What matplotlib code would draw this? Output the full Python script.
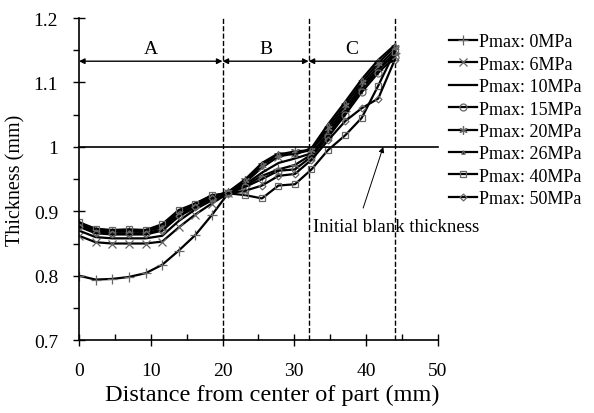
import numpy as np
import matplotlib as mpl
import matplotlib.pyplot as plt
from matplotlib.ticker import MultipleLocator

mpl.rc("font", family="Liberation Serif", size=14)

# distance from center of part (mm)
dist = [0, 2.3, 4.6, 6.9, 9.3, 11.6, 13.9, 16.2, 18.5, 20.8,
        23.2, 25.5, 27.8, 30.1, 32.4, 34.7, 37.1, 39.4, 41.7, 44.0]

labels = ["Pmax: 0MPa", "Pmax: 6MPa", "Pmax: 10MPa", "Pmax: 15MPa",
          "Pmax: 20MPa", "Pmax: 26MPa", "Pmax: 40MPa", "Pmax: 50MPa"]

t_0 = [0.800, 0.794, 0.795, 0.798, 0.804, 0.817, 0.839, 0.863, 0.894, 0.928,
       0.940, 0.955, 0.965, 0.972, 0.988, 1.020, 1.055, 1.090, 1.120, 1.145]
t_6 = [0.862, 0.852, 0.850, 0.850, 0.850, 0.853, 0.875, 0.895, 0.912, 0.928,
       0.945, 0.968, 0.985, 0.990, 0.995, 1.025, 1.060, 1.095, 1.125, 1.150]
t_10 = [0.870, 0.860, 0.858, 0.858, 0.858, 0.862, 0.885, 0.903, 0.917, 0.928,
        0.942, 0.960, 0.975, 0.982, 0.990, 1.020, 1.055, 1.090, 1.120, 1.145]
t_15 = [0.878, 0.868, 0.866, 0.866, 0.866, 0.872, 0.895, 0.908, 0.920, 0.928,
        0.938, 0.950, 0.963, 0.965, 0.985, 1.015, 1.050, 1.085, 1.115, 1.140]
t_20 = [0.880, 0.870, 0.869, 0.869, 0.869, 0.875, 0.898, 0.910, 0.922, 0.930,
        0.948, 0.972, 0.988, 0.993, 0.995, 1.030, 1.065, 1.100, 1.130, 1.155]
t_26 = [0.882, 0.872, 0.870, 0.870, 0.870, 0.877, 0.900, 0.912, 0.923, 0.930,
        0.950, 0.975, 0.990, 0.988, 0.998, 1.035, 1.070, 1.105, 1.135, 1.158]
t_40 = [0.883, 0.873, 0.871, 0.872, 0.871, 0.880, 0.902, 0.912, 0.925, 0.928,
        0.925, 0.920, 0.940, 0.942, 0.965, 0.995, 1.018, 1.045, 1.095, 1.148]
t_50 = [0.876, 0.866, 0.864, 0.864, 0.864, 0.870, 0.892, 0.906, 0.920, 0.928,
        0.932, 0.940, 0.955, 0.958, 0.980, 1.010, 1.040, 1.060, 1.075, 1.135]

series = [t_0, t_6, t_10, t_15, t_20, t_26, t_40, t_50]
markers = ["+", "x", None, "o", (6, 2, 0), "^", "s", "D"]
msizes = [7, 6, 0, 5, 6, 2.5, 5, 3.5]

zones = [0, 20, 32, 44]
zone_names = ["A", "B", "C"]

fig = plt.figure(figsize=(5.94, 4.14), dpi=100)
ax = fig.add_axes([0.133, 0.176, 0.604, 0.778])

for ys, lab, m, ms in zip(series, labels, markers, msizes):
    ax.plot(dist, ys, "-", color="k", lw=1.6, marker=m, ms=ms,
            mfc="k" if m == "^" else "none", mec="#666666", mew=0.9,
            label=lab)

# zone boundaries
for z in zones[1:]:
    ax.plot([z, z], [0.7, 1.2], "--k", lw=1.0, clip_on=False, zorder=1)

# initial blank thickness
ax.plot([0, 50], [1.0, 1.0], "-k", lw=1.2, clip_on=False)

# zone arrows
for i, nm in enumerate(zone_names):
    ax.annotate("", xy=(zones[i], 1.133), xytext=(zones[i+1], 1.133),
                arrowprops=dict(arrowstyle="<|-|>", color="k", lw=1.0,
                                mutation_scale=8, shrinkA=0, shrinkB=0))
    ax.text((zones[i] + zones[i+1]) / 2, 1.14, nm, ha="center", va="bottom",
            fontsize=14)

ax.annotate("", xy=(42.4, 1.0), xytext=(39.6, 0.905),
            arrowprops=dict(arrowstyle="-|>", color="k", lw=0.7,
                            mutation_scale=8, shrinkA=0, shrinkB=0))
ax.text(32.6, 0.876, "Initial blank thickness", ha="left", va="center",
        fontsize=13.5)

ax.set_xlim(0, 50)
ax.set_ylim(0.7, 1.2)
ax.xaxis.set_major_locator(MultipleLocator(10))
ax.xaxis.set_minor_locator(MultipleLocator(5))
ax.yaxis.set_minor_locator(MultipleLocator(0.05))
ax.set_yticks([0.7, 0.8, 0.9, 1.0, 1.1, 1.2])
ax.set_yticklabels(["0.7", "0.8", "0.9", "1", "1.1", "1.2"])
ax.tick_params(which="major", direction="inout", length=8, width=1)
ax.tick_params(axis="x", which="major", pad=12)
ax.tick_params(axis="y", which="major", pad=11)
ax.tick_params(axis="x", which="minor", direction="in", length=4, width=1)
ax.tick_params(axis="y", which="minor", direction="out", length=4, width=1)
for s in ["top", "right"]:
    ax.spines[s].set_visible(False)
ax.spines["left"].set_linewidth(1.2)
ax.spines["bottom"].set_linewidth(1.2)

ax.set_xlabel("Distance from center of part (mm)", fontsize=17.5)
ax.xaxis.set_label_coords(0.538, -0.135)
ax.set_ylabel("Thickness (mm)", fontsize=14.5, labelpad=6)

ax.legend(loc="upper left", bbox_to_anchor=(1.01, 0.975), frameon=False,
          fontsize=13, handlelength=1.6, handletextpad=0.1,
          labelspacing=0.3, borderaxespad=0)

fig.savefig("out.png", dpi=100)
